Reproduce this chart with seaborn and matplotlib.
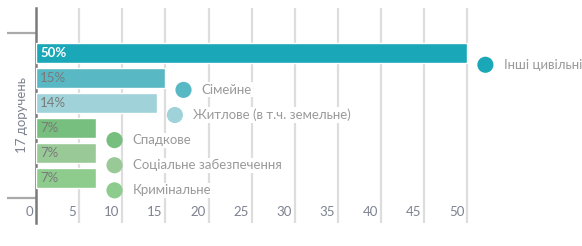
import matplotlib
matplotlib.use("Agg")
import matplotlib.pyplot as plt
import matplotlib.transforms as mtransforms
import seaborn as sns
import pandas as pd

categories = ["Інші цивільні", "Сімейне", "Житлове (в т.ч. земельне)",
              "Спадкове", "Соціальне забезпечення", "Кримінальне"]
values = [50, 15, 14, 7, 7, 7]
bar_labels = ["50%", "15%", "14%", "7%", "7%", "7%"]
colors = ["#1aa7b8", "#58b8c4", "#9fd3d9", "#77bf7e", "#98c996", "#8dcc8d"]
x_ticks = [0, 5, 10, 15, 20, 25, 30, 35, 40, 45, 50]
group_label = "17 доручень"

sns.set_style("white")
plt.rcParams['font.family'] = ['Lato', 'DejaVu Sans']
FS = 9.5

df = pd.DataFrame({"cat": categories, "val": values})

fig = plt.figure(figsize=(5.82, 2.46), dpi=100)
ax = fig.add_axes([36 / 582, 23 / 246, 546 / 582, 215 / 246])

sns.barplot(data=df, x="val", y="cat", hue="cat", palette=colors,
            order=categories, hue_order=categories, width=0.78,
            dodge=False, legend=False, ax=ax, zorder=3, saturation=1)

ax.set_xlim(0, 63.3)
ax.set_ylim(6.78, -1.78)

# vertical grid
for t in x_ticks[1:]:
    ax.axvline(t, color="#dddddd", lw=1.6, zorder=1)

for s in ["top", "right", "bottom"]:
    ax.spines[s].set_visible(False)
ax.spines["left"].set_color("#7a7a7a")
ax.spines["left"].set_linewidth(1.8)

ax.set_xticks([])
ax.set_xlabel("")
ax.set_ylabel("")
ax.set_yticks([-0.8, 5.8], labels=["", ""])
ax.tick_params(axis="y", which="major", left=True, length=21, width=1.6,
               color="#aaaaaa", direction="out")
ax.set_yticks([2.5], labels=[group_label], minor=True)
ax.tick_params(axis="y", which="minor", left=True, length=0, pad=6)
for lab in ax.get_yticklabels(minor=True):
    lab.set_rotation(90)
    lab.set_va("center")
    lab.set_fontsize(FS)
    lab.set_color("#7d8290")

# bottom tick labels sitting left of each grid line
tick_tr = mtransforms.offset_copy(ax.get_xaxis_transform(), fig=fig, x=-3, y=0, units="dots")
for t in x_ticks:
    ax.text(t, 0.05, str(t), transform=tick_tr, ha="right", va="center",
            fontsize=FS, color="#7d8290", zorder=4)

# value labels inside bars
lab_tr = mtransforms.offset_copy(ax.transData, fig=fig, x=4, y=0, units="dots")
for i, (v, lab) in enumerate(zip(values, bar_labels)):
    c = "white" if i == 0 else "#7a7a7a"
    w = "bold" if i == 0 else "normal"
    ax.text(0, i, lab, transform=lab_tr, ha="left", va="center",
            fontsize=FS, color=c, fontweight=w, zorder=5)

# circle markers with category names at bar ends
dot_x = [v + 2.1 for v in values]
dot_y = [i + 0.48 for i in range(len(values))]
ax.scatter(dot_x, dot_y, s=135, c=colors, zorder=5, linewidths=0, clip_on=False)
for x, y, name in zip(dot_x, dot_y, categories):
    ax.text(x + 2.1, y, name, ha="left", va="center", fontsize=FS,
            color="#9a9a9a", zorder=4,
            bbox=dict(facecolor="white", edgecolor="none", pad=1))

fig.savefig("out.png", dpi=100)
